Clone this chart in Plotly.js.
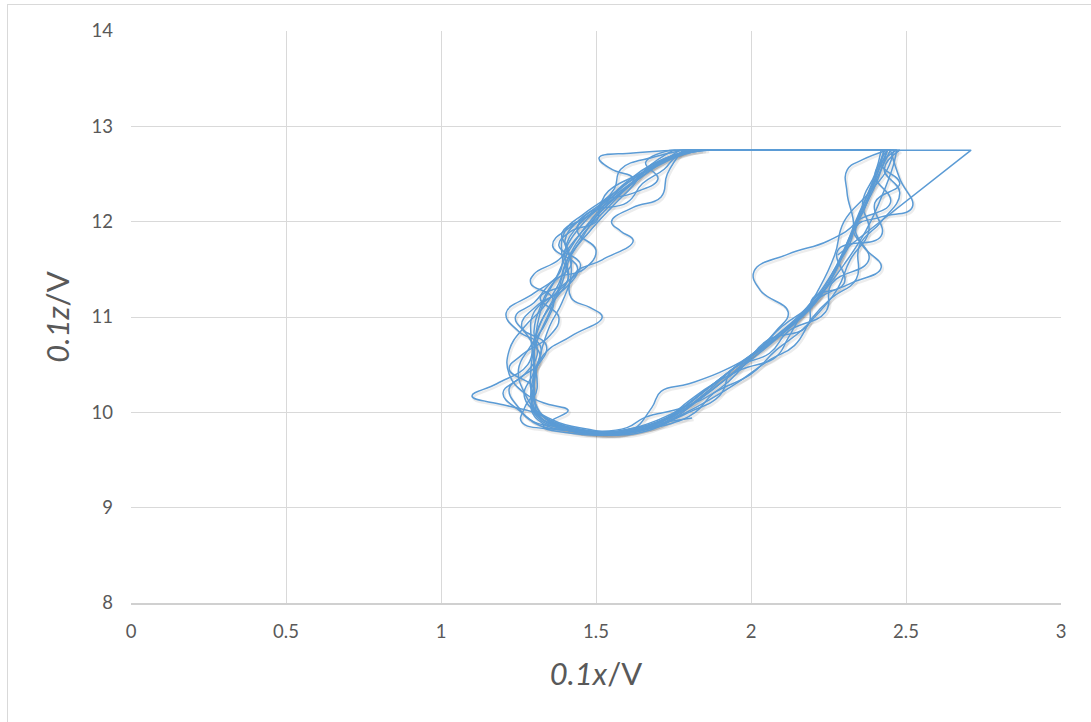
<!DOCTYPE html>
<html>
<head>
<meta charset="utf-8">
<script src="https://cdn.plot.ly/plotly-3.0.1.min.js"></script>
<style>
html,body{margin:0;padding:0;background:#fff;}
#chart{width:1091px;height:722px;}
#frame{position:absolute;left:7px;top:4px;width:1100px;height:740px;border:1px solid #d9d9d9;pointer-events:none;}
</style>
</head>
<body>
<div id="chart"></div>
<div id="frame"></div>
<script>
// Trajectory (x = 0.1x/V, z = 0.1z/V).
// Start transient, then loops; each loop runs from the left end of the top jump,
// down the left band, along the bottom and up the right band to the top right.
const xStart = [2.28, 2.71];
const zStart = [11.65, 12.75];

const xLoop1 = [1.80, 1.70, 1.62, 1.52, 1.44, 1.40, 1.41, 1.36, 1.31, 1.30, 1.30, 1.32, 1.40, 1.50, 1.60, 1.70, 1.78, 1.88, 1.98, 2.08, 2.18, 2.26, 2.32, 2.37, 2.42, 2.45];
const zLoop1 = [12.75, 12.62, 12.42, 12.18, 11.95, 11.70, 11.40, 11.15, 10.85, 10.50, 10.20, 9.95, 9.85, 9.80, 9.82, 9.92, 10.05, 10.30, 10.55, 10.80, 11.10, 11.45, 11.85, 12.20, 12.55, 12.75];

const xLoop2 = [1.85, 1.72, 1.66, 1.58, 1.50, 1.45, 1.40, 1.38, 1.33, 1.30, 1.28, 1.18, 1.10, 1.20, 1.30, 1.38, 1.48, 1.58, 1.68, 1.76, 1.86, 1.96, 2.06, 2.16, 2.24, 2.30, 2.35, 2.40, 2.44];
const zLoop2 = [12.75, 12.65, 12.50, 12.30, 12.05, 11.80, 11.55, 11.30, 11.00, 10.75, 10.50, 10.30, 10.17, 10.08, 10.00, 9.88, 9.80, 9.80, 9.88, 10.00, 10.25, 10.50, 10.72, 11.00, 11.30, 11.70, 12.10, 12.45, 12.75];

const xLoop3 = [1.80, 1.68, 1.60, 1.52, 1.45, 1.40, 1.38, 1.30, 1.21, 1.25, 1.32, 1.30, 1.29, 1.31, 1.40, 1.50, 1.62, 1.72, 1.82, 1.92, 2.02, 2.08, 2.12, 2.03, 2.01, 2.12, 2.25, 2.34, 2.39, 2.43];
const zLoop3 = [12.75, 12.60, 12.42, 12.18, 11.95, 11.70, 11.45, 11.25, 11.04, 10.85, 10.70, 10.40, 10.15, 9.95, 9.82, 9.78, 9.83, 9.93, 10.15, 10.40, 10.65, 10.85, 11.05, 11.28, 11.48, 11.66, 11.80, 12.00, 12.35, 12.75];

const xLoop4 = [1.75, 1.66, 1.62, 1.55, 1.48, 1.42, 1.39, 1.35, 1.31, 1.29, 1.30, 1.35, 1.45, 1.55, 1.65, 1.74, 1.84, 1.94, 2.04, 2.14, 2.22, 2.32, 2.42, 2.36, 2.34, 2.42, 2.52, 2.48, 2.45];
const zLoop4 = [12.75, 12.55, 12.38, 12.15, 11.90, 11.65, 11.35, 11.05, 10.75, 10.45, 10.12, 9.90, 9.82, 9.77, 9.82, 9.95, 10.20, 10.45, 10.70, 10.95, 11.20, 11.35, 11.52, 11.75, 11.95, 12.05, 12.15, 12.45, 12.75];

const xLoop5 = [1.78, 1.73, 1.71, 1.62, 1.55, 1.58, 1.62, 1.52, 1.43, 1.42, 1.48, 1.52, 1.42, 1.33, 1.30, 1.30, 1.37, 1.47, 1.57, 1.67, 1.76, 1.86, 1.95, 2.05, 2.15, 2.23, 2.29, 2.34, 2.39, 2.43];
const zLoop5 = [12.75, 12.50, 12.26, 12.15, 12.00, 11.90, 11.80, 11.60, 11.45, 11.20, 11.10, 11.00, 10.80, 10.60, 10.30, 10.02, 9.86, 9.78, 9.79, 9.86, 9.98, 10.22, 10.48, 10.70, 10.97, 11.25, 11.60, 12.00, 12.40, 12.75];

const xLoop6 = [1.76, 1.62, 1.51, 1.55, 1.62, 1.56, 1.49, 1.43, 1.38, 1.30, 1.29, 1.36, 1.34, 1.29, 1.25, 1.27, 1.32, 1.41, 1.51, 1.61, 1.68, 1.71, 1.80, 1.92, 2.02, 2.10, 2.20, 2.27, 2.33, 2.31, 2.31, 2.36, 2.44];
const zLoop6 = [12.75, 12.72, 12.67, 12.55, 12.45, 12.25, 12.02, 11.80, 11.60, 11.45, 11.35, 11.20, 10.95, 10.70, 10.45, 10.20, 9.98, 9.83, 9.77, 9.80, 10.05, 10.22, 10.30, 10.45, 10.65, 10.90, 11.15, 11.50, 11.90, 12.30, 12.54, 12.65, 12.75];

const xLoop7 = [1.82, 1.70, 1.63, 1.56, 1.47, 1.39, 1.41, 1.42, 1.39, 1.35, 1.32, 1.30, 1.31, 1.36, 1.44, 1.54, 1.64, 1.72, 1.80, 1.88, 1.97, 2.08, 2.12, 2.16, 2.23, 2.30, 2.37, 2.42, 2.46, 2.47];
const zLoop7 = [12.75, 12.63, 12.45, 12.25, 12.05, 11.88, 11.70, 11.45, 11.15, 10.90, 10.60, 10.30, 10.05, 9.90, 9.82, 9.78, 9.82, 9.92, 10.12, 10.30, 10.45, 10.58, 10.78, 11.00, 11.25, 11.55, 11.90, 12.25, 12.60, 12.75];

const xLoop8 = [1.77, 1.69, 1.61, 1.53, 1.46, 1.41, 1.38, 1.33, 1.27, 1.22, 1.22, 1.27, 1.33, 1.41, 1.36, 1.33, 1.42, 1.53, 1.63, 1.73, 1.82, 1.92, 2.00, 2.10, 2.19, 2.26, 2.31, 2.36, 2.41, 2.44];
const zLoop8 = [12.75, 12.57, 12.38, 12.12, 11.88, 11.62, 11.35, 11.10, 10.90, 10.65, 10.40, 10.20, 10.10, 10.02, 9.92, 9.85, 9.78, 9.76, 9.80, 9.90, 10.10, 10.35, 10.55, 10.82, 11.08, 11.40, 11.75, 12.10, 12.45, 12.75];

const xLoop9 = [1.80, 1.72, 1.62, 1.55, 1.46, 1.40, 1.39, 1.41, 1.37, 1.30, 1.29, 1.30, 1.31, 1.29, 1.33, 1.43, 1.52, 1.62, 1.70, 1.78, 1.90, 2.00, 2.10, 2.17, 2.22, 2.27, 2.30, 2.38, 2.44, 2.46];
const zLoop9 = [12.75, 12.62, 12.45, 12.28, 12.08, 11.90, 11.65, 11.40, 11.25, 11.05, 10.80, 10.55, 10.25, 10.05, 9.88, 9.80, 9.76, 9.79, 9.86, 10.02, 10.30, 10.58, 10.85, 11.05, 11.30, 11.65, 12.00, 12.30, 12.55, 12.75];

const xLoop10 = [1.74, 1.66, 1.70, 1.62, 1.52, 1.50, 1.42, 1.38, 1.45, 1.40, 1.32, 1.38, 1.35, 1.26, 1.22, 1.30, 1.27, 1.26, 1.38, 1.50, 1.60, 1.66, 1.78, 1.90, 1.98, 2.05, 2.18, 2.20, 2.30, 2.28, 2.42, 2.40, 2.48, 2.42, 2.44];
const zLoop10 = [12.75, 12.62, 12.45, 12.30, 12.20, 12.00, 11.90, 11.75, 11.55, 11.35, 11.20, 11.00, 10.80, 10.60, 10.45, 10.25, 10.05, 9.90, 9.82, 9.80, 9.84, 9.95, 10.05, 10.25, 10.50, 10.75, 10.90, 11.20, 11.35, 11.70, 11.85, 12.20, 12.40, 12.60, 12.75];

const xLoop11 = [1.86, 1.76, 1.72, 1.65, 1.60, 1.48, 1.44, 1.50, 1.46, 1.37, 1.30, 1.24, 1.28, 1.32, 1.25, 1.20, 1.26, 1.32, 1.45, 1.56, 1.68, 1.78, 1.86, 1.96, 2.06, 2.14, 2.20, 2.26, 2.34, 2.35, 2.42, 2.48, 2.43, 2.48];
const zLoop11 = [12.75, 12.68, 12.55, 12.40, 12.20, 12.10, 11.90, 11.70, 11.50, 11.40, 11.15, 11.00, 10.80, 10.55, 10.35, 10.20, 10.00, 9.86, 9.80, 9.76, 9.82, 9.98, 10.12, 10.32, 10.55, 10.70, 11.00, 11.20, 11.40, 11.75, 12.00, 12.30, 12.55, 12.75];

const xLoop12 = [1.78, 1.69, 1.58, 1.56, 1.52, 1.44, 1.40, 1.42, 1.36, 1.32, 1.30, 1.31, 1.27, 1.22, 1.25, 1.30, 1.42, 1.52, 1.64, 1.74, 1.82, 1.88, 2.00, 2.08, 2.16, 2.22, 2.28, 2.32, 2.38, 2.36, 2.40, 2.42];
const zLoop12 = [12.75, 12.68, 12.55, 12.35, 12.20, 12.00, 11.80, 11.55, 11.35, 11.10, 10.85, 10.60, 10.40, 10.25, 10.05, 9.90, 9.84, 9.79, 9.82, 9.88, 10.00, 10.20, 10.40, 10.65, 10.85, 11.05, 11.30, 11.60, 11.90, 12.20, 12.50, 12.75];

const xLoop13 = [1.84, 1.74, 1.64, 1.54, 1.50, 1.42, 1.36, 1.44, 1.40, 1.31, 1.26, 1.34, 1.30, 1.27, 1.36, 1.48, 1.58, 1.68, 1.80, 1.90, 1.94, 2.06, 2.12, 2.24, 2.26, 2.38, 2.33, 2.45, 2.40, 2.47];
const zLoop13 = [12.75, 12.66, 12.50, 12.32, 12.12, 11.95, 11.75, 11.52, 11.30, 11.12, 10.90, 10.70, 10.42, 10.15, 9.92, 9.82, 9.78, 9.84, 10.00, 10.18, 10.45, 10.62, 10.85, 11.05, 11.35, 11.60, 11.95, 12.20, 12.50, 12.75];

const xLoop14 = [1.79, 1.70, 1.60, 1.52, 1.46, 1.41, 1.37, 1.33, 1.31, 1.30, 1.30, 1.30, 1.35, 1.45, 1.55, 1.65, 1.73, 1.81];
const zLoop14 = [12.75, 12.60, 12.40, 12.15, 11.92, 11.68, 11.40, 11.15, 10.90, 10.60, 10.30, 10.05, 9.88, 9.80, 9.79, 9.85, 9.90, 9.94];

const xTickVals = [0, 0.5, 1, 1.5, 2, 2.5, 3];
const xTickText = ['0', '0.5', '1', '1.5', '2', '2.5', '3'];
const zTickVals = [8, 9, 10, 11, 12, 13, 14];
const zTickText = ['8', '9', '10', '11', '12', '13', '14'];

const xLoops = [xLoop1, xLoop2, xLoop3, xLoop4, xLoop5, xLoop6, xLoop7, xLoop8, xLoop9, xLoop10, xLoop11, xLoop12, xLoop13, xLoop14];
const zLoops = [zLoop1, zLoop2, zLoop3, zLoop4, zLoop5, zLoop6, zLoop7, zLoop8, zLoop9, zLoop10, zLoop11, zLoop12, zLoop13, zLoop14];

// Smooth loops, separated by gaps
const xCurve = [], zCurve = [];
xLoops.forEach((lx, i) => { xCurve.push(...lx, null); zCurve.push(...zLoops[i], null); });

// Straight fast jumps: start transient, then end of each loop to start of the next
const xJump = [...xStart, xLoops[0][0], null];
const zJump = [...zStart, zLoops[0][0], null];
for (let i = 0; i < xLoops.length - 1; i++) {
  xJump.push(xLoops[i][xLoops[i].length - 1], xLoops[i + 1][0], null);
  zJump.push(zLoops[i][zLoops[i].length - 1], zLoops[i + 1][0], null);
}

const xRange = [0, 3], zRange = [8, 14];
const plotW = 930, plotH = 572;
const sdx = 1.5 * (xRange[1] - xRange[0]) / plotW;
const sdz = 2.0 * (zRange[1] - zRange[0]) / plotH;

const blue = '#5B9BD5';
const shadowCol = 'rgba(70,70,70,0.10)';
function tr(x, y, ax, color, width, shape) {
  const line = {color: color, width: width, shape: shape};
  if (shape === 'spline') line.smoothing = 1.3;
  return {x: x, y: y, type: 'scatter', mode: 'lines', xaxis: 'x' + ax, yaxis: 'y' + ax,
          line: line, connectgaps: false, hoverinfo: 'skip', showlegend: false};
}
const base = {x: [null], y: [null], type: 'scatter', mode: 'lines', showlegend: false, hoverinfo: 'skip'};

const traces = [
  base,
  tr(xCurve, zCurve, 2, shadowCol, 2.4, 'spline'),
  tr(xCurve, zCurve, 3, blue, 1.5, 'spline'),
  tr(xJump, zJump, 3, blue, 1.5, 'linear')
];

const tickFont = {family: 'Lato, "Open Sans", sans-serif', size: 18.5, color: '#595959'};
const titleFont = {family: 'Lato, "Open Sans", sans-serif', size: 31, color: '#595959'};

const layout = {
  width: 1091, height: 722,
  margin: {l: 131, r: 30, t: 31, b: 119},
  paper_bgcolor: '#ffffff', plot_bgcolor: '#ffffff',
  showlegend: false,
  xaxis: {
    range: xRange, tickvals: xTickVals, ticktext: xTickText,
    showgrid: true, gridcolor: '#d9d9d9', gridwidth: 1,
    zeroline: false, showline: true, linecolor: '#d0d0d0', linewidth: 1.5, mirror: false,
    ticks: '', tickfont: tickFont, ticklabelstandoff: 11,
    title: {text: '<i>0.1x</i>/V', font: titleFont, standoff: 22}
  },
  yaxis: {
    range: zRange, tickvals: zTickVals, ticktext: zTickText,
    showgrid: true, gridcolor: '#d9d9d9', gridwidth: 1,
    zeroline: false, showline: false,
    ticks: '', tickfont: tickFont, ticklabelstandoff: 17,
    title: {text: '<i>0.1z</i>/V', font: titleFont, standoff: 12}
  },
  xaxis2: {overlaying: 'x', range: [xRange[0] - sdx, xRange[1] - sdx], visible: false, fixedrange: true},
  yaxis2: {overlaying: 'y', range: [zRange[0] + sdz, zRange[1] + sdz], visible: false, fixedrange: true},
  xaxis3: {overlaying: 'x', range: xRange, visible: false, fixedrange: true},
  yaxis3: {overlaying: 'y', range: zRange, visible: false, fixedrange: true}
};

Plotly.newPlot('chart', traces, layout, {displayModeBar: false, staticPlot: true});
</script>
</body>
</html>
